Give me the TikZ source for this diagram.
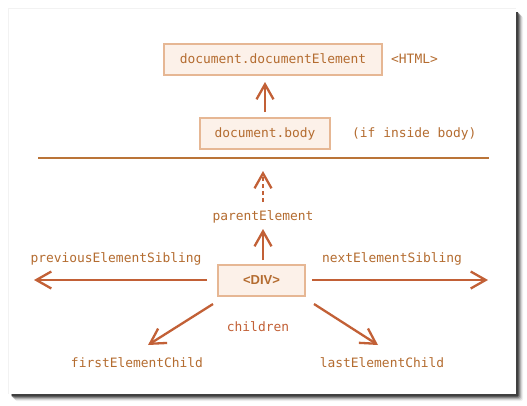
\documentclass[tikz,border=0pt]{standalone}
\usepackage{fontspec}
\setmainfont{Liberation Sans}
\newfontfamily\codefont{DejaVu Sans Mono}
\usetikzlibrary{arrows.meta}
\definecolor{codetext}{RGB}{180,108,48}
\definecolor{arrowc}{RGB}{194,96,54}
\definecolor{rulec}{RGB}{186,116,56}
\definecolor{boxfill}{RGB}{252,241,233}
\definecolor{boxline}{RGB}{230,183,148}
\tikzset{
  code/.style={font=\codefont\fontsize{12.9}{14}\selectfont, text=codetext, inner sep=0pt},
  elembox/.style={draw=boxline, line width=2pt, fill=boxfill, minimum height=31pt, inner sep=0pt},
  nav/.style={draw=arrowc, line width=2.3pt, -{Straight Barb[length=15pt,width=17pt,line width=2.3pt]}},
}
\begin{document}
\begin{tikzpicture}[x=1pt,y=-1pt]
  \useasboundingbox (0,0) rectangle (527,405);
  % soft drop shadow behind the panel
  \foreach \o/\a in {7/0.06,6/0.10,5/0.16,4/0.24,3/0.35}
    \fill[black, opacity=\a, rounded corners=2pt] (9+\o-1,9+\o) rectangle (516+\o,394+\o);
  \fill[black!75] (12,12) rectangle (518,396);
  % faint halo on the top and left edges
  \fill[black!5] (8,8) rectangle (516,394);
  % panel
  \fill[white] (9,9) rectangle (516,394);

  % top part: document chain
  \node[elembox, code, minimum width=218pt] (docel) at (273,59) {document.documentElement};
  \node[code, anchor=west] (html) at (391,59) {<HTML>};
  \node[elembox, code, minimum width=130pt] (body) at (265,133.5) {document.body};
  \node[code, anchor=west] (inbody) at (352,133.5) {(if inside body)};
  \coordinate (bodyUp) at (265,112);
  \coordinate (docelIn) at (265,82);
  \draw[nav] (bodyUp) -- (docelIn);

  % separator
  \coordinate (ruleL) at (38,158);
  \coordinate (ruleR) at (489,158);
  \draw[rulec, line width=2.3pt] (ruleL) -- (ruleR);

  % the element and its neighbours
  \node[elembox, minimum width=87pt, font=\bfseries\fontsize{13}{15}\selectfont, text=codetext] (div) at (261.5,280.5) {<DIV>};
  \node[code] (parent) at (263,217) {parentElement};
  \coordinate (parentFrom) at (263,202);
  \coordinate (parentTip) at (263,171);
  \draw[nav, dash pattern=on 4pt off 3pt] (parentFrom) -- (parentTip);
  \coordinate (divUp) at (263,260);
  \coordinate (divUpTip) at (263,229);
  \draw[nav] (divUp) -- (divUpTip);

  \coordinate (divL) at (207,280);
  \coordinate (divR) at (312,280);
  \coordinate (prevTip) at (34,280);
  \coordinate (nextTip) at (488,280);
  \draw[nav] (divL) -- (prevTip);
  \draw[nav] (divR) -- (nextTip);
  \node[code] (prev) at (116,259) {previousElementSibling};
  \node[code] (next) at (392,259) {nextElementSibling};

  \coordinate (divSW) at (213,304);
  \coordinate (divSE) at (314,304);
  \coordinate (firstTip) at (148,345);
  \coordinate (lastTip) at (378,345);
  \draw[nav] (divSW) -- (firstTip);
  \draw[nav] (divSE) -- (lastTip);
  \node[code, text=arrowc] (children) at (258,327) {children};
  \node[code] (first) at (137,363) {firstElementChild};
  \node[code] (last) at (382,363) {lastElementChild};
\end{tikzpicture}
\end{document}
